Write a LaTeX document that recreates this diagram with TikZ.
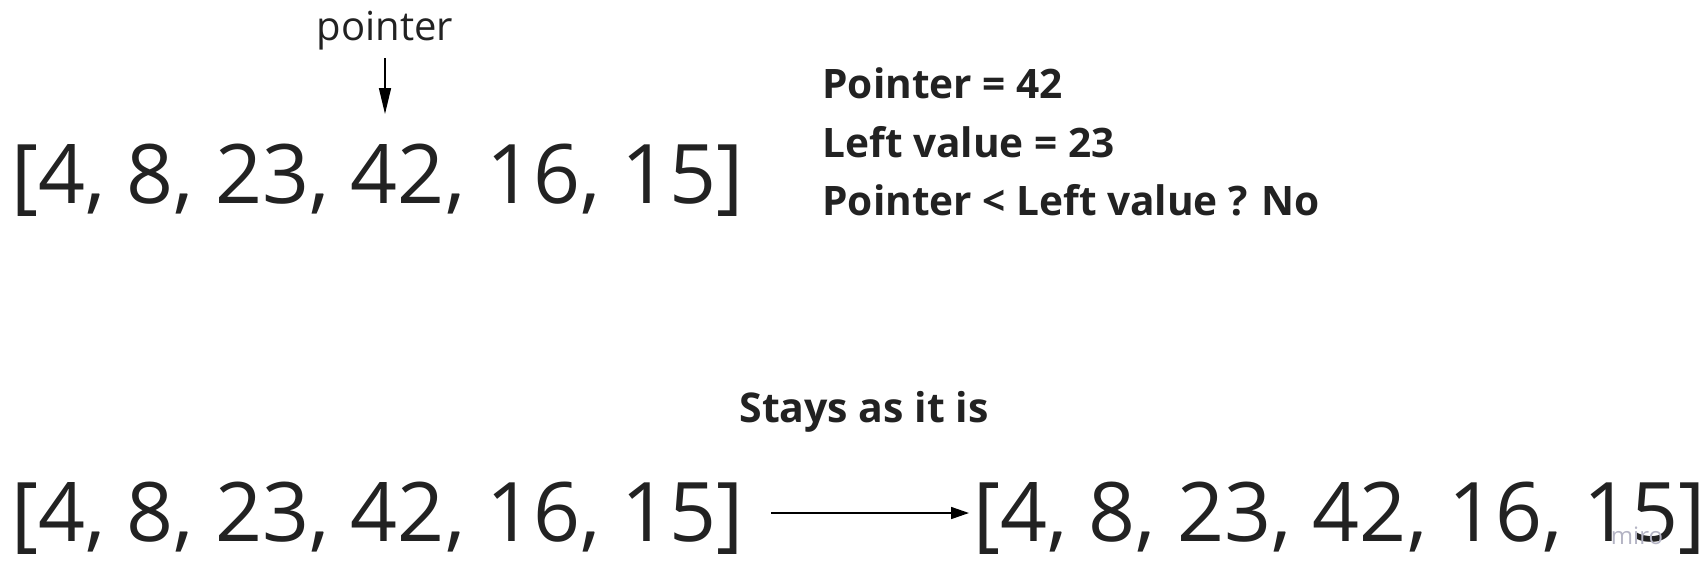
\documentclass[tikz,border=0pt]{standalone}
\usepackage{fontspec}
\setmainfont{Open Sans}
\usetikzlibrary{arrows.meta,positioning}
\definecolor{inkGray} {RGB}{34, 34, 34}
\definecolor{miroGray}{RGB}{180,180,196}

\begin{document}
\begin{tikzpicture}[x=0.5pt,y=-0.5pt,
    arrText/.style={font=\fontsize{41.1}{48}\selectfont,inkGray,inner sep=0pt,anchor=base west},
    infoText/.style={font=\fontsize{20.3}{25}\selectfont\bfseries,inkGray,inner sep=0pt,
                     anchor=base west},
    ptrArrow/.style={-{Triangle[length=13pt,width=6pt]},line width=0.8pt,black},
    stepArrow/.style={-{Triangle[length=9pt,width=6pt]},line width=0.8pt,black}]

    \useasboundingbox (0,0) rectangle (1708,585);

    % ─── Antes: ponteiro em 42 ────────────────────────────
    \node[arrText] (arrTop) at (11,203) {[4, 8, 23, 42, 16, 15]};
    \node[font=\fontsize{20}{24}\selectfont,inkGray,inner sep=0pt,anchor=base]
      (ptrLabel) at (385,40) {pointer};
    \coordinate (ptrTip) at (385,114);
    \draw[ptrArrow] ([yshift=-4pt]ptrLabel.south) -- (ptrTip);

    % ─── Comparacao ───────────────────────────────────────
    \node[infoText] (cmpPtr)  at (822,98)  {Pointer = 42};
    \node[infoText] (cmpLeft) at (822,157) {Left value = 23};
    \node[infoText] (cmpTest) at (822,215) {Pointer < Left value ? No};

    % ─── Depois: sem troca ────────────────────────────────
    \node[font=\fontsize{20.5}{25}\selectfont\bfseries,inkGray,inner sep=0pt,anchor=base]
      (stayLabel) at (864,422) {Stays as it is};
    \node[arrText] (arrBefore) at (11,541) {[4, 8, 23, 42, 16, 15]};
    \node[arrText] (arrAfter)  at (973,541) {[4, 8, 23, 42, 16, 15]};
    \draw[stepArrow] ([xshift=14pt,yshift=14pt]arrBefore.base east)
      -- ([xshift=-2pt,yshift=14pt]arrAfter.base west);

    % marca d'agua
    \node[font=\fontsize{12}{14}\selectfont,miroGray,inner sep=0pt,anchor=base]
      (miroMark) at (1637,544) {miro};

\end{tikzpicture}
\end{document}
